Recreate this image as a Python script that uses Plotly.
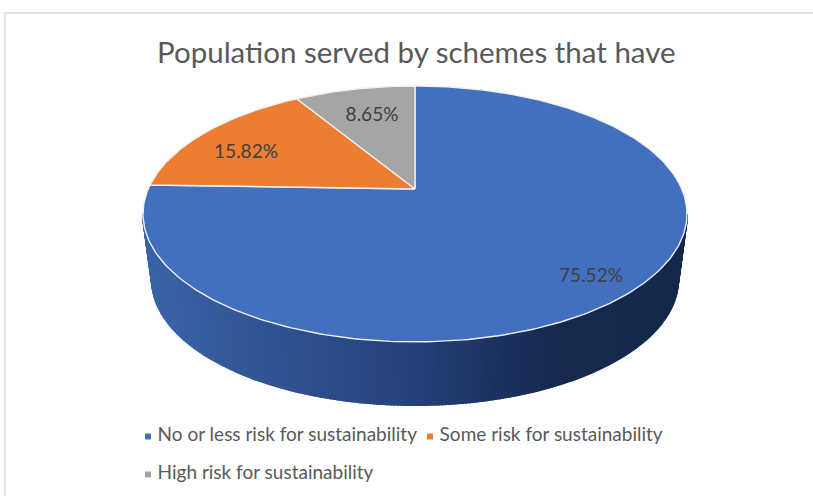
import numpy as np
import plotly.graph_objects as go

# --- data ---
categories = ["No or less risk for sustainability", "Some risk for sustainability", "High risk for sustainability"]
shares = [75.52, 15.82, 8.65]
title_text = "Population served by schemes that have"

# --- style / geometry (canvas pixels) ---
colors = ["#4270bf", "#ed7d31", "#a5a5a5"]
FONT = "Lato"
APEX_X, APEX_Y = 415, 189
A, B, K = 266.8, 123.1, 0.195       # perspective of the disc
TOP_C = (415, 214, 272, 128)         # outline of the disc
LOW_C = (415, 280, 263, 125)         # outline of the base
GRAD = [(143, (58, 100, 168)), (280, (48, 83, 146)), (415, (36, 65, 122)),
        (500, (28, 50, 96)), (560, (22, 41, 79)), (687, (21, 40, 76))]
label_pos = [(591, 277), (246, 153), (372, 116)]
legend_pos = [(148, 436.5), (430, 436.5), (148, 474.5)]


def project(theta, r=1.0):
    X, Y = r * np.sin(theta), r * np.cos(theta)
    d = 1 + K * Y
    return APEX_X + A * X / d, APEX_Y - B * Y / d


def grad_color(x):
    xs = [g[0] for g in GRAD]
    rgb = [np.interp(x, xs, [g[1][i] for g in GRAD]) for i in range(3)]
    return "rgb(%d,%d,%d)" % tuple(int(round(c)) for c in rgb)


fig = go.Figure()

# side wall, as narrow strips carrying the gradient
phi = np.linspace(np.pi, 2 * np.pi, 241)
tx = TOP_C[0] + TOP_C[2] * np.cos(phi)
ty = TOP_C[1] - TOP_C[3] * np.sin(phi)
bx = LOW_C[0] + LOW_C[2] * np.cos(phi)
by = LOW_C[1] - LOW_C[3] * np.sin(phi)
for i in range(len(phi) - 1):
    col = grad_color((tx[i] + tx[i + 1]) / 2)
    fig.add_trace(go.Scatter(
        x=[tx[i], tx[i + 1], bx[i + 1], bx[i], tx[i]],
        y=[ty[i], ty[i + 1], by[i + 1], by[i], ty[i]],
        mode="lines", fill="toself", fillcolor=col,
        line=dict(color=col, width=2), hoverinfo="skip", showlegend=False))

# top slices, from the values
total = sum(shares)
start = 0.0
for v, c in zip(shares, colors):
    end = start + v / total * 2 * np.pi
    th = np.linspace(start, end, max(int(v * 4), 12))
    px, py = project(th)
    fig.add_trace(go.Scatter(
        x=[APEX_X, *px, APEX_X], y=[APEX_Y, *py, APEX_Y],
        mode="lines", fill="toself", fillcolor=c,
        line=dict(color="rgba(240,240,240,1)", width=1.4),
        hoverinfo="skip", showlegend=False))
    start = end

# value labels
fig.add_trace(go.Scatter(
    x=[p[0] for p in label_pos], y=[p[1] for p in label_pos],
    mode="text", text=[f"{v:.2f}%" for v in shares],
    textposition="middle center",
    textfont=dict(family=FONT, size=19, color="#404040"),
    hoverinfo="skip", showlegend=False))

# legend
for name, c, p in zip(categories, colors, legend_pos):
    fig.add_trace(go.Scatter(
        x=[p[0]], y=[p[1]], mode="markers+text", text=[" " + name],
        textposition="middle right",
        marker=dict(symbol="square", size=6, color=c),
        textfont=dict(family=FONT, size=19, color="#595959"),
        hoverinfo="skip", showlegend=False))

fig.update_layout(
    width=813, height=496,
    margin=dict(l=0, r=0, t=0, b=0),
    paper_bgcolor="white", plot_bgcolor="white",
    xaxis=dict(range=[0, 813], visible=False, fixedrange=True),
    yaxis=dict(range=[496, 0], visible=False, fixedrange=True),
    annotations=[dict(text=title_text, x=416, y=51, xref="x", yref="y",
                      showarrow=False, xanchor="center", yanchor="middle",
                      font=dict(family=FONT, size=29.5, color="#595959"))],
    shapes=[
        dict(type="line", x0=5, x1=5, y0=13, y1=496, xref="x", yref="y",
             line=dict(color="#d9d9d9", width=1.5)),
        dict(type="line", x0=5, x1=813, y0=13, y1=13, xref="x", yref="y",
             line=dict(color="#d9d9d9", width=1.5)),
    ],
)
fig.write_html("out.html", config={"displayModeBar": False},
               post_script="document.body.style.margin='0';document.documentElement.style.overflow='hidden';")
